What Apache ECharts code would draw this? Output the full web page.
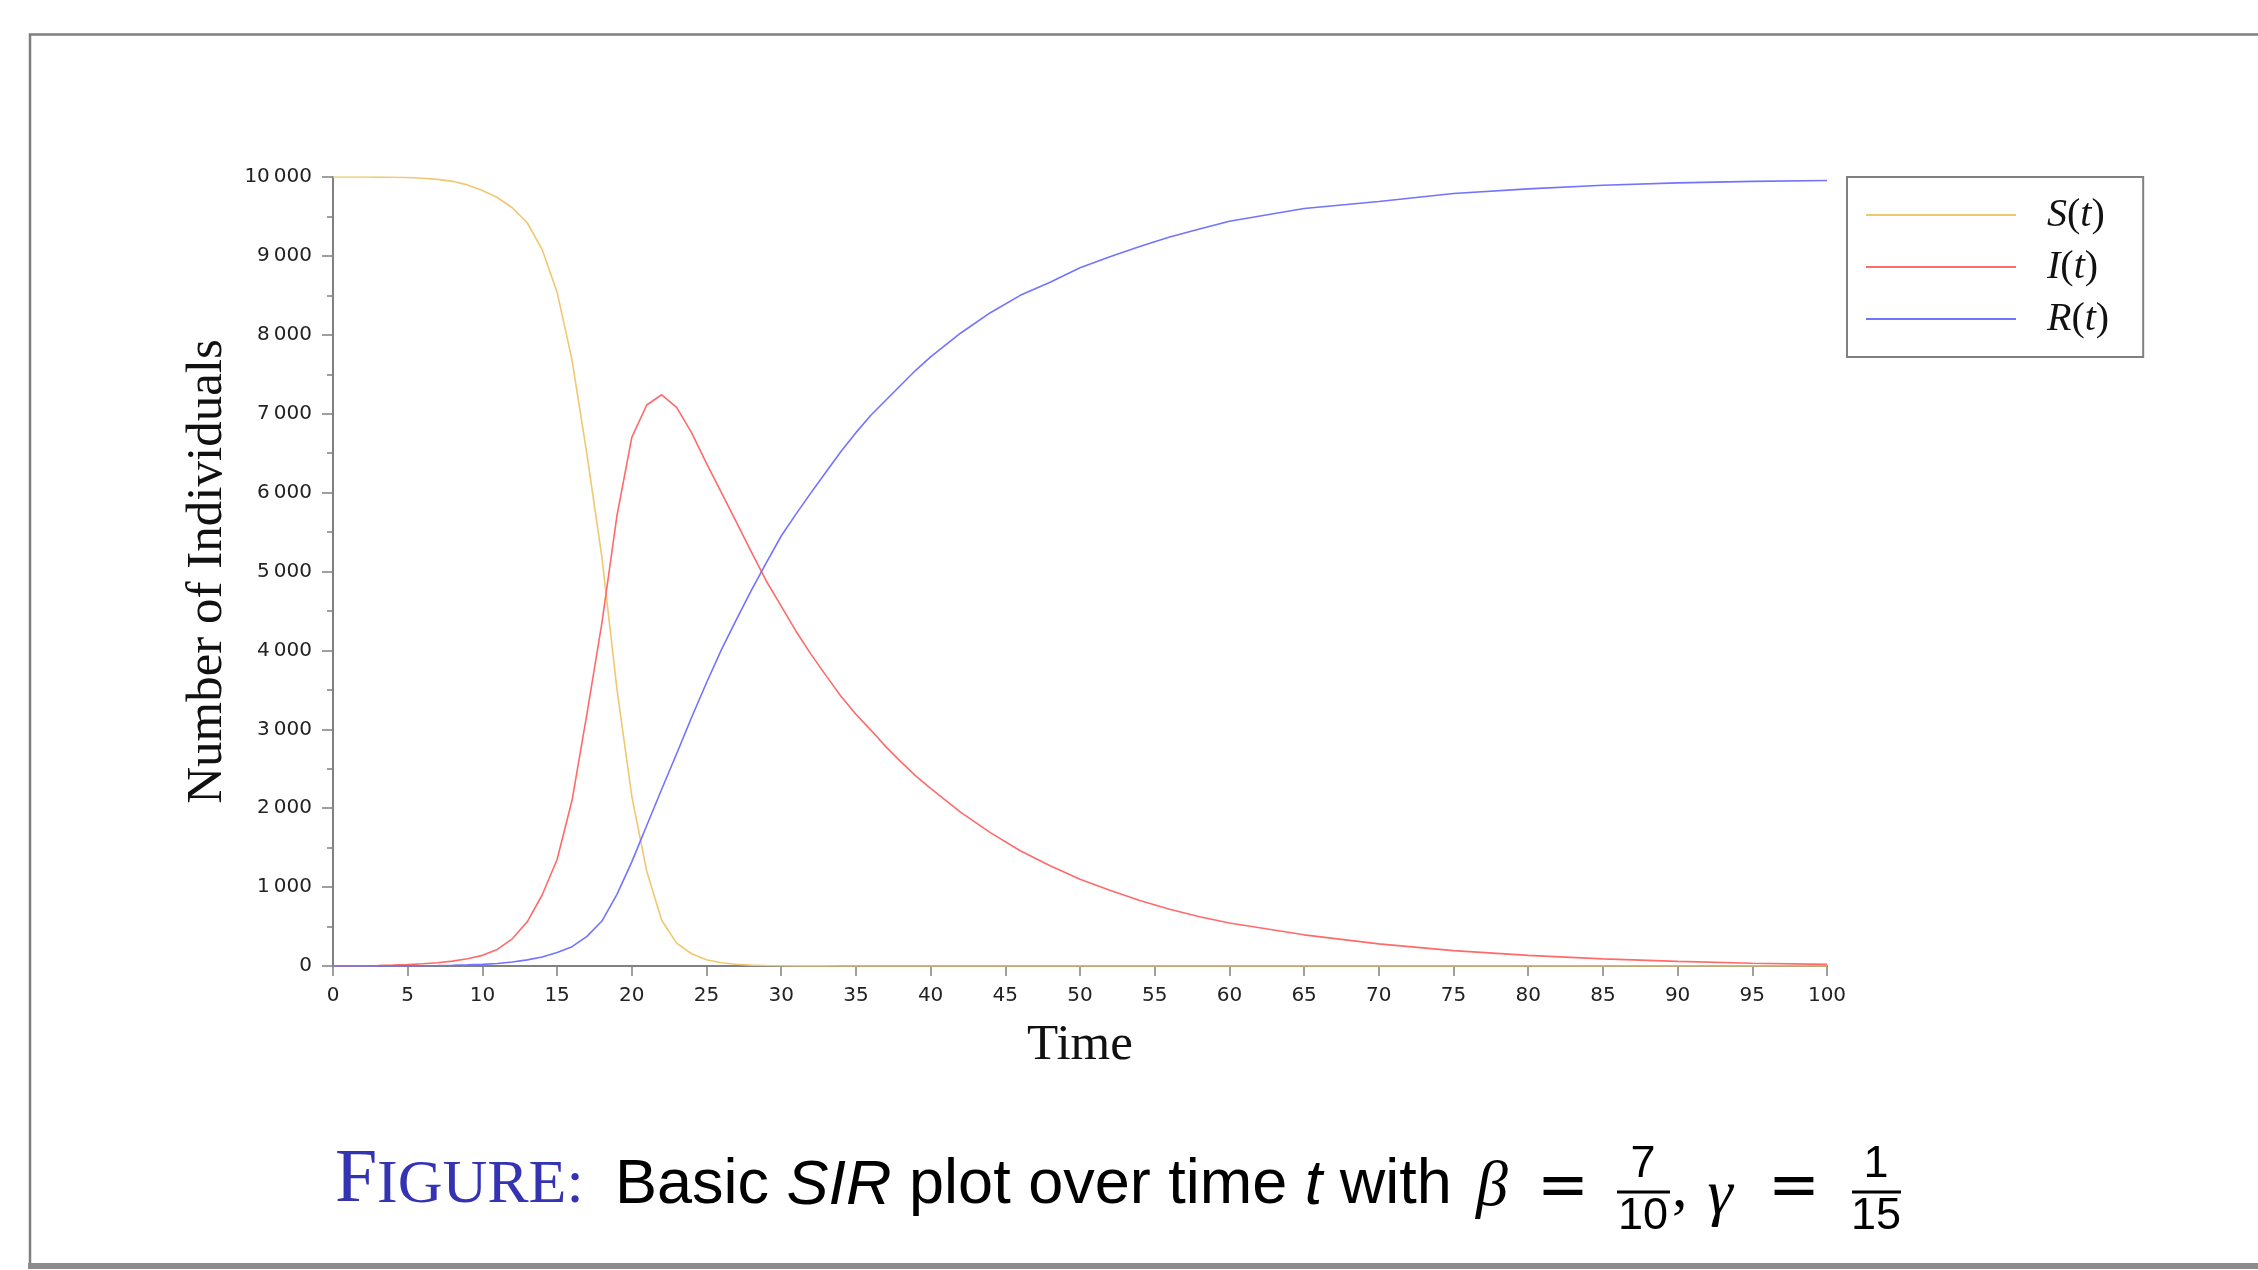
<!DOCTYPE html>
<html>
<head>
<meta charset="utf-8">
<script src="https://cdn.jsdelivr.net/npm/echarts@6/dist/echarts.min.js"></script>
<style>
  html, body { margin: 0; padding: 0; background: #fff; }
  #chart { width: 2258px; height: 1270px; }
</style>
</head>
<body>
<div id="chart"></div>
<script>
// time steps (denser where the curves bend)
const TIME = [
  0, 1, 2, 3, 4, 5, 6, 7, 8, 9,
  10, 11, 12, 13, 14, 15, 16, 17, 18, 19,
  20, 21, 22, 23, 24, 25, 26, 27, 28, 29,
  30, 31, 32, 33, 34, 35, 36, 37, 38, 39, 40,
  42, 44, 46, 48, 50, 52, 54, 56, 58, 60,
  65, 70, 75, 80, 85, 90, 95, 100,
]

const SUSCEPTIBLE = [
  10000, 10000, 10000, 9999, 9997, 9993, 9985, 9970, 9945, 9900,
  9830, 9740, 9610, 9420, 9080, 8540, 7680, 6480, 5180, 3520,
  2150, 1200, 580, 290, 155, 80, 42, 22, 11, 6,
  3, 2, 1, 1, 0, 0, 0, 0, 0, 0, 0,
  0, 0, 0, 0, 0, 0, 0, 0, 0, 0,
  0, 0, 0, 0, 0, 0, 0, 0,
]

const INFECTED = [
  1, 2, 4, 7, 12, 18, 28, 42, 62, 92,
  135, 210, 345, 560, 900, 1350, 2100, 3200, 4350, 5700,
  6700, 7110, 7240, 7080, 6760, 6370, 6000, 5625, 5250, 4880,
  4560, 4240, 3950, 3680, 3420, 3190, 2990, 2780, 2590, 2410, 2250,
  1950, 1690, 1460, 1270, 1100, 960, 830, 720, 625, 545,
  395, 280, 195, 135, 90, 58, 35, 20,
]

const RECOVERED = [
  0, 0, 0, 1, 1, 2, 4, 6, 9, 14,
  20, 32, 50, 78, 115, 170, 245, 375, 570, 905,
  1320, 1780, 2240, 2690, 3150, 3590, 4010, 4390, 4760, 5110,
  5450, 5730, 6000, 6260, 6520, 6760, 6980, 7170, 7360, 7550, 7720,
  8020, 8280, 8500, 8665, 8850, 8990, 9120, 9240, 9340, 9440,
  9600, 9690, 9790, 9850, 9895, 9925, 9945, 9955,
]

const SERIES_NAMES = ['S(t)', 'I(t)', 'R(t)']
const SERIES_COLORS = ['#f0c870', '#ff6a6a', '#7373ff']

const X_MIN = 0
const X_MAX = 100
const X_STEP = 5
const Y_MIN = 0
const Y_MAX = 10000
const Y_STEP = 1000

const X_TITLE = 'Time'
const Y_TITLE = 'Number of Individuals'

const AXIS_GREY = '#808080'
const FIGURE_BLUE = '#3333b3'
const SERIF = '"Liberation Serif", "DejaVu Serif", serif'
const SANS = '"Liberation Sans", Arial, sans-serif'

function toPairs(values) {
  return TIME.map((t, i) => [t, values[i]])
}

function formatThousands(value) {
  return String(value).replace(/\B(?=(\d{3})+(?!\d))/g, '\u2009')
}

function legendLabel(name) {
  // "S(t)" -> italic S, upright parens, italic t
  const letter = name.charAt(0)
  return `{it|${letter}}{rm|(}{it|t}{rm|)}`
}

// plain text piece of the caption, placed by its middle line
function captionText(x, y, text, font, extra) {
  return {
    type: 'text',
    x,
    y,
    style: Object.assign({ text, fill: '#000', verticalAlign: 'middle' }, font, extra),
  }
}

const chart = echarts.init(document.getElementById('chart'))

const seriesValues = [SUSCEPTIBLE, INFECTED, RECOVERED]

chart.setOption({
  animation: false,
  backgroundColor: '#ffffff',
  grid: {
    left: 333,
    right: 431,
    top: 177,
    bottom: 304,
    containLabel: false,
  },
  legend: {
    orient: 'vertical',
    left: 1847,
    top: 177,
    padding: [18, 34, 18, 19],
    itemGap: 12,
    itemWidth: 150,
    itemHeight: 2,
    icon: 'rect',
    borderColor: AXIS_GREY,
    borderWidth: 2,
    data: SERIES_NAMES,
    formatter: legendLabel,
    textStyle: {
      padding: [0, 0, 0, 26],
      lineHeight: 40,
      color: '#111',
      rich: {
        it: { fontFamily: SERIF, fontStyle: 'italic', fontSize: 40, lineHeight: 40, color: '#111' },
        rm: { fontFamily: SERIF, fontSize: 40, lineHeight: 40, color: '#111' },
      },
    },
  },
  xAxis: {
    type: 'value',
    min: X_MIN,
    max: X_MAX,
    interval: X_STEP,
    name: X_TITLE,
    nameLocation: 'middle',
    nameGap: 54,
    nameTextStyle: { fontFamily: SERIF, fontSize: 51, color: '#111' },
    splitLine: { show: false },
    axisLine: { lineStyle: { color: AXIS_GREY, width: 2 } },
    axisTick: { length: 10, lineStyle: { color: AXIS_GREY, width: 1.5 } },
    axisLabel: {
      margin: 20,
      color: '#222',
      fontFamily: '"DejaVu Sans", sans-serif',
      fontSize: 20,
    },
  },
  yAxis: {
    type: 'value',
    min: Y_MIN,
    max: Y_MAX,
    interval: Y_STEP,
    name: Y_TITLE,
    nameLocation: 'middle',
    nameGap: 83,
    nameTextStyle: { fontFamily: SERIF, fontSize: 51, color: '#111' },
    splitLine: { show: false },
    axisLine: { show: true, lineStyle: { color: AXIS_GREY, width: 2 } },
    axisTick: { show: true, length: 11, lineStyle: { color: AXIS_GREY, width: 1.5 } },
    minorTick: { show: true, splitNumber: 2, length: 6, lineStyle: { color: AXIS_GREY, width: 1.5 } },
    axisLabel: {
      margin: 21,
      color: '#222',
      fontFamily: '"DejaVu Sans", sans-serif',
      fontSize: 20,
      formatter: formatThousands,
    },
  },
  series: SERIES_NAMES.map((name, i) => ({
    name,
    type: 'line',
    showSymbol: false,
    color: SERIES_COLORS[i],
    lineStyle: { width: 1.6, color: SERIES_COLORS[i] },
    data: toPairs(seriesValues[i]),
  })),
  graphic: [
    // slide frame
    {
      type: 'rect',
      z: -10,
      shape: { x: 30, y: 34.5, width: 2300, height: 1230 },
      style: { fill: 'none', stroke: '#7f7f7f', lineWidth: 2.5 },
    },
    {
      type: 'rect',
      z: -10,
      shape: { x: 28, y: 1263, width: 2300, height: 6 },
      style: { fill: '#8c8c8c' },
    },
    // caption: "FIGURE:" in small caps
    captionText(335, 1181, 'F', { fontFamily: SERIF, fontSize: 76 }, { fill: FIGURE_BLUE }),
    captionText(377, 1186, 'IGURE:', { fontFamily: SERIF, fontSize: 62 }, { fill: FIGURE_BLUE }),
    {
      type: 'text',
      x: 615,
      y: 1186,
      style: {
        text: '{n|Basic }{i|SIR}{n| plot over time }{i|t}{n| with}',
        verticalAlign: 'middle',
        rich: {
          n: { fontFamily: SANS, fontSize: 63, fill: '#000' },
          i: { fontFamily: SANS, fontSize: 63, fontStyle: 'italic', fill: '#000' },
        },
      },
    },
    captionText(1476, 1188, 'β', { fontFamily: SERIF, fontStyle: 'italic', fontSize: 64 }),
    captionText(1563, 1190, '=', { fontFamily: '"DejaVu Sans", sans-serif', fontSize: 62 }, { align: 'center' }),
    captionText(1643, 1165, '7', { fontFamily: SANS, fontSize: 45 }, { align: 'center' }),
    {
      type: 'line',
      shape: { x1: 1617, y1: 1192, x2: 1670, y2: 1192 },
      style: { stroke: '#000', lineWidth: 3 },
    },
    captionText(1643, 1217, '10', { fontFamily: SANS, fontSize: 45 }, { align: 'center' }),
    captionText(1672, 1190, ',', { fontFamily: SERIF, fontSize: 62 }),
    captionText(1720, 1196, 'γ', { fontFamily: SERIF, fontStyle: 'italic', fontSize: 64 }, { align: 'center' }),
    captionText(1794, 1190, '=', { fontFamily: '"DejaVu Sans", sans-serif', fontSize: 62 }, { align: 'center' }),
    captionText(1876, 1165, '1', { fontFamily: SANS, fontSize: 45 }, { align: 'center' }),
    {
      type: 'line',
      shape: { x1: 1852, y1: 1192, x2: 1901, y2: 1192 },
      style: { stroke: '#000', lineWidth: 3 },
    },
    captionText(1876, 1217, '15', { fontFamily: SANS, fontSize: 45 }, { align: 'center' }),
  ],
})
</script>
</body>
</html>
